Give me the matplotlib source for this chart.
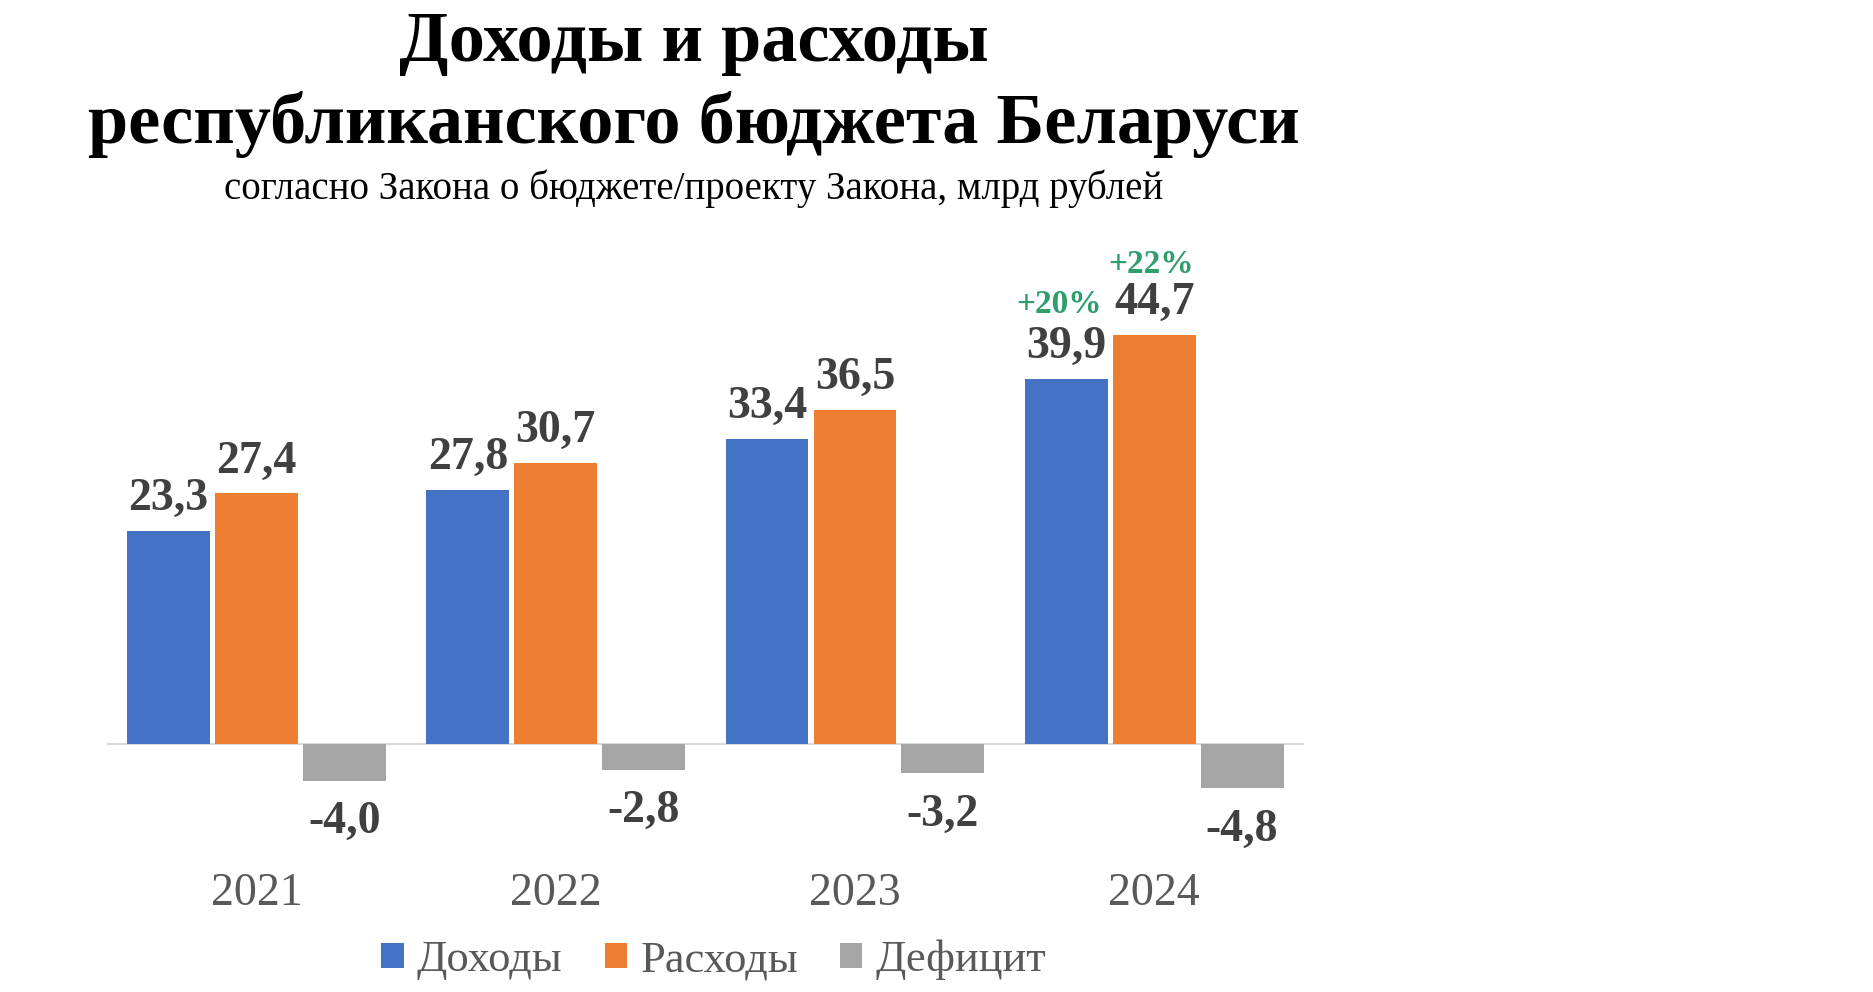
import numpy as np
import matplotlib.pyplot as plt

years = ['2021', '2022', '2023', '2024']
income = [23.3, 27.8, 33.4, 39.9]
expenses = [27.4, 30.7, 36.5, 44.7]
deficit = [-4.0, -2.8, -3.2, -4.8]
growth_income = '+20%'
growth_expenses = '+22%'

plt.rcParams['font.family'] = ['Liberation Serif', 'DejaVu Serif']

fig = plt.figure(figsize=(18.74, 9.92), dpi=100)
ax = fig.add_axes([0.0571, 0.1935, 0.6386, 0.5544])

x = np.arange(len(years))
w = 0.277
step = 0.294

b1 = ax.bar(x - step, income, w, color='#4472C4', label='Доходы')
b2 = ax.bar(x, expenses, w, color='#ED7D31', label='Расходы')
b3 = ax.bar(x + step, deficit, w, color='#A5A5A5', label='Дефицит')

ax.axhline(0, color='#D9D9D9', lw=1.5, zorder=0)
ax.set_xlim(-0.5, 3.5)
ax.set_ylim(-6.12, 54.0)

for bars in (b1, b2, b3):
    for bar in bars:
        v = bar.get_height()
        cx = bar.get_x() + bar.get_width() / 2
        off = 23 if v > 0 else -30
        ax.annotate(f'{v:.1f}'.replace('.', ','), (cx, v), xytext=(0, off),
                    textcoords='offset points', ha='center', va='center',
                    fontsize=33, fontweight='bold', color='#404040')

# growth labels for 2024
last_inc = b1[-1]
last_exp = b2[-1]
ax.annotate(growth_income, (last_inc.get_x() + last_inc.get_width() / 2, last_inc.get_height()),
            xytext=(-5, 54), textcoords='offset points', ha='center', va='center',
            fontsize=24, fontweight='bold', color='#2E9E6B')
ax.annotate(growth_expenses, (last_exp.get_x() + last_exp.get_width() / 2, last_exp.get_height()),
            xytext=(-2, 51), textcoords='offset points', ha='center', va='center',
            fontsize=24, fontweight='bold', color='#2E9E6B')

ax.set_xticks(x, years)
ax.tick_params(axis='x', length=0, pad=52, labelsize=33, labelcolor='#595959')
ax.set_yticks([])
for s in ax.spines.values():
    s.set_visible(False)

fig.text(0.370, 1 - 44 / 992, 'Доходы и расходы', ha='center', va='center',
         fontsize=52, fontweight='bold', color='black')
fig.text(0.370, 1 - 125 / 992, 'республиканского бюджета Беларуси', ha='center', va='center',
         fontsize=52, fontweight='bold', color='black')
fig.text(0.370, 1 - 189 / 992, 'согласно Закона о бюджете/проекту Закона, млрд рублей',
         ha='center', va='center', fontsize=28, color='black')

fig.legend(handles=[b1, b2, b3], loc='center', bbox_to_anchor=(0.381, 0.0323), ncol=3,
           frameon=False, fontsize=32, labelcolor='#595959', handlelength=0.5,
           handleheight=0.5, handletextpad=0.3, columnspacing=0.95)

fig.savefig('out.png', dpi=100)
